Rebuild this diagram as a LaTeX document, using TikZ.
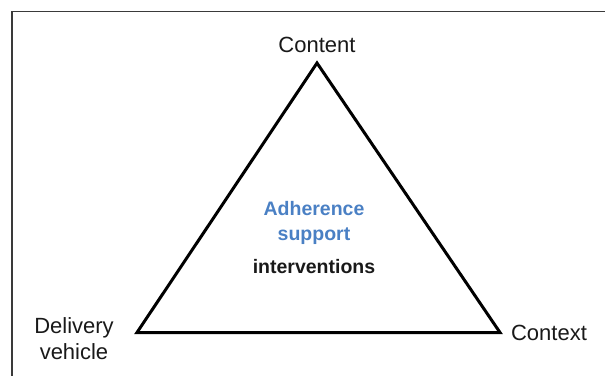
\documentclass[tikz,border=0pt]{standalone}
\usepackage{fontspec}
\setmainfont{Liberation Sans}
\definecolor{azul}{HTML}{4A80C4}
\definecolor{marco}{HTML}{3A3A3A}
\begin{document}
\begin{tikzpicture}[x=0.5pt,y=-0.5pt,
    vertice/.style={font=\fontsize{11}{13}\selectfont, text=black!90, inner sep=0pt},
    centro/.style={font=\bfseries\fontsize{9.75}{12.5}\selectfont, inner sep=0pt, align=center}]
    \useasboundingbox (0,0) rectangle (605,375);
    \clip (0,0) rectangle (605,375);

    % Marco
    \draw[marco, line width=0.7pt] (12,11.5) rectangle (640,400);

    % Vertices
    \coordinate (A) at (317,63);
    \coordinate (B) at (137,332.5);
    \coordinate (C) at (500,332.5);

    % Triangulo
    \draw[line width=1.5pt, line join=miter] (A) -- (B) -- (C) -- cycle;

    % Etiquetas
    \node[vertice, anchor=base] (content) at (317,52.5) {Content};
    \node[vertice, align=center] (delivery) at (74,339) {Delivery\\vehicle};
    \node[vertice, anchor=base] (context) at (549,340) {Context};

    % Centro
    \node[centro, text=azul, anchor=base] (adherence) at (314,215) {Adherence};
    \node[centro, text=azul, anchor=base] (support) at (314,240) {support};
    \node[centro, text=black!90, anchor=base] (interventions) at (314,273) {interventions};
\end{tikzpicture}
\end{document}
